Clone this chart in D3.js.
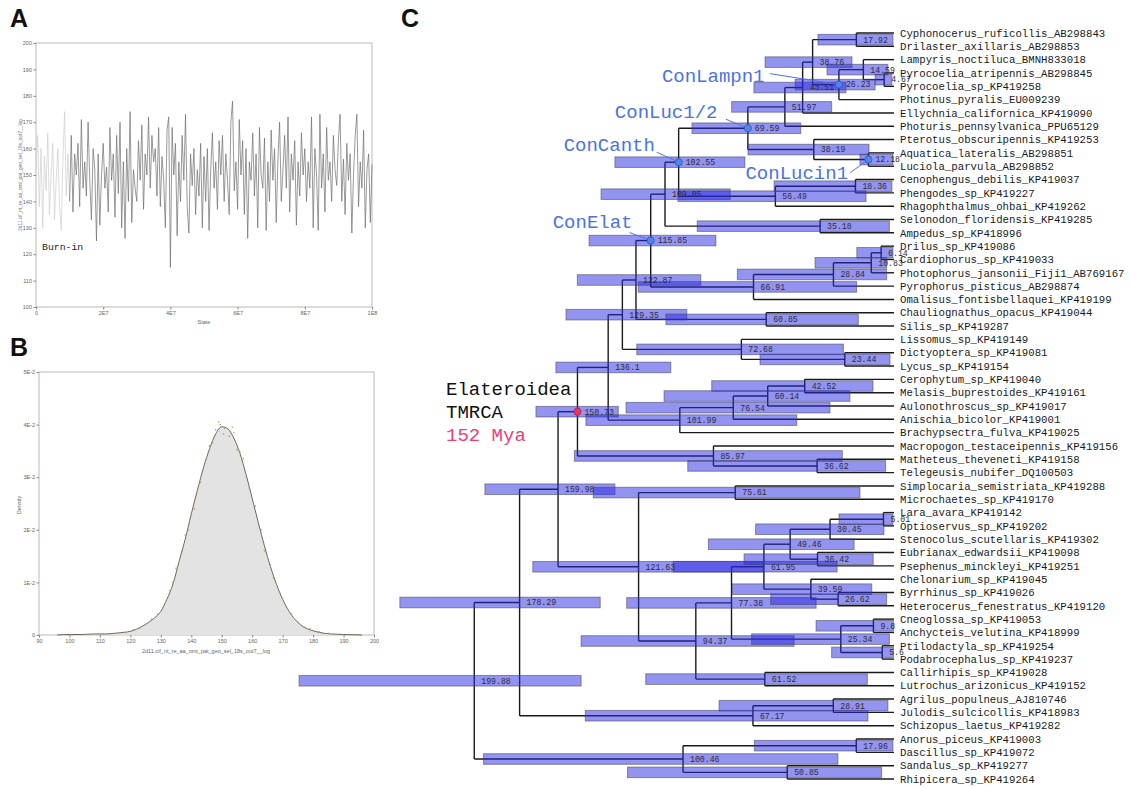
<!DOCTYPE html>
<html lang="en">
<head>
<meta charset="UTF-8">
<title>Dated tree, MCMC trace and root age density</title>
<script src="https://cdnjs.cloudflare.com/ajax/libs/d3/7.8.5/d3.min.js"></script>
<style>
  body { margin: 0; background: #fff; }
  svg { display: block; }
  .mono { font-family: "Liberation Mono", "Courier New", monospace; }
  .axis text { font-family: "Liberation Sans", Arial, sans-serif; fill: #666; }
  .axis line { stroke: #888; }
</style>
</head>
<body>
<svg id="fig" width="1131" height="787"></svg>
<script>
// ---------- panel A: trace of the log ----------
const traceStep = 5e5;      // states between samples
const burnInEnd = 20;       // sample index where burn-in stops (1E7)
const traceValues = [
  152, 165, 138, 160, 130, 157, 144, 166, 135, 150, 162, 133, 148, 160, 138, 129, 155, 174, 142, 158,
  140, 165, 136, 158, 150, 162, 138, 171, 145, 155, 142, 170, 148, 133, 160, 152, 125, 158, 131, 150,
  162, 145, 153, 136, 168, 148, 158, 134, 165, 143, 170, 130, 155, 126, 160, 140, 174, 132, 152, 145,
  140, 163, 148, 169, 137, 158, 150, 172, 145, 165, 155, 160, 142, 168, 138, 157, 148, 130, 167, 172,
  115, 168, 150, 162, 127, 155, 140, 165, 148, 173, 138, 128, 158, 146, 160, 135, 152, 142, 162, 130,
  157, 140, 160, 129, 152, 166, 145, 155, 137, 163, 150, 165, 140, 158, 148, 135, 170, 178, 144, 155,
  137, 171, 150, 163, 135, 160, 126, 155, 148, 166, 142, 158, 130, 168, 150, 145, 164, 129, 155, 140,
  167, 148, 160, 132, 156, 170, 140, 152, 165, 145, 172, 136, 158, 148, 163, 131, 155, 142, 166, 150,
  160, 140, 155, 145, 172, 130, 160, 150, 129, 173, 145, 158, 136, 168, 148, 155, 140, 165, 152, 146,
  163, 173, 140, 156, 135, 162, 148, 158, 128, 150, 165, 173, 138, 155, 145, 167, 130, 152, 158, 132, 154
];
const traceXTicks = [0, 2e7, 4e7, 6e7, 8e7, 1e8];
const traceXLabels = ["0", "2E7", "4E7", "6E7", "8E7", "1E8"];
const traceYTicks = [100, 110, 120, 130, 140, 150, 160, 170, 180, 190, 200];
const logName = "2d11.cif_nt_re_aa_omt_pat_geo_sel_18s_out7__log";

// ---------- panel B: marginal density ----------
const densityX = [96, 100, 104, 108, 112, 116, 118, 120, 122, 124, 126, 128, 130, 132, 134, 136, 138, 140,
  142, 144, 146, 148, 150, 152, 154, 156, 158, 160, 162, 164, 166, 168, 170, 172, 174, 176, 178, 180,
  182, 184, 186, 190, 196];
const densityY = [0, 0.0001, 0.0001, 0.0002, 0.0002, 0.0004, 0.0005, 0.0007, 0.0011, 0.0017, 0.0024, 0.0033,
  0.0045, 0.0068, 0.0097, 0.0140, 0.0182, 0.0230, 0.0275, 0.0318, 0.0354, 0.0382, 0.0396, 0.0392, 0.0374,
  0.0345, 0.0305, 0.0260, 0.0214, 0.0170, 0.0130, 0.0096, 0.0068, 0.0046, 0.0030, 0.0019, 0.0012, 0.0008,
  0.0005, 0.0003, 0.0002, 0.0001, 0];
const densityPtX = [118, 121, 123, 125, 127, 129, 131, 133, 134, 135, 137, 138, 139, 140, 141, 142, 143, 145,
  146, 147, 148, 149, 149.5, 150.5, 151, 152.5, 153.5, 154, 155, 156, 157, 159, 161, 163, 164, 165, 166,
  167, 169, 171, 173, 175, 177, 179, 182, 185];
const densityPtY = [0.0005, 0.0010, 0.0013, 0.0020, 0.0030, 0.0040, 0.0055, 0.0085, 0.0100, 0.0127, 0.0160,
  0.0190, 0.0200, 0.0232, 0.0240, 0.0275, 0.0290, 0.0335, 0.0360, 0.0365, 0.0390, 0.0405, 0.0400, 0.0382,
  0.0393, 0.0378, 0.0395, 0.0385, 0.0352, 0.0348, 0.0335, 0.0280, 0.0245, 0.0200, 0.0160, 0.0148, 0.0133,
  0.0108, 0.0080, 0.0055, 0.0040, 0.0025, 0.0015, 0.0012, 0.0006, 0.0003];
const densXTicks = [90, 100, 110, 120, 130, 140, 150, 160, 170, 180, 190, 200];
const densYTicks = [0, 0.01, 0.02, 0.03, 0.04, 0.05];
const densYLabels = ["0", "1E-2", "2E-2", "3E-2", "4E-2", "5E-2"];

// ---------- panel C: dated tree ----------
const tipNames = [
  "Cyphonocerus_ruficollis_AB298843", "Drilaster_axillaris_AB298853", "Lampyris_noctiluca_BMNH833018",
  "Pyrocoelia_atripennis_AB298845", "Pyrocoelia_sp_KP419258", "Photinus_pyralis_EU009239",
  "Ellychnia_californica_KP419090", "Photuris_pennsylvanica_PPU65129", "Pterotus_obscuripennis_KP419253",
  "Aquatica_lateralis_AB298851", "Luciola_parvula_AB298852", "Cenophengus_debilis_KP419037",
  "Phengodes_sp_KP419227", "Rhagophthalmus_ohbai_KP419262", "Selonodon_floridensis_KP419285",
  "Ampedus_sp_KP418996", "Drilus_sp_KP419086", "Cardiophorus_sp_KP419033",
  "Photophorus_jansonii_Fiji1_AB769167", "Pyrophorus_pisticus_AB298874", "Omalisus_fontisbellaquei_KP419199",
  "Chauliognathus_opacus_KP419044", "Silis_sp_KP419287", "Lissomus_sp_KP419149",
  "Dictyoptera_sp_KP419081", "Lycus_sp_KP419154", "Cerophytum_sp_KP419040",
  "Melasis_buprestoides_KP419161", "Aulonothroscus_sp_KP419017", "Anischia_bicolor_KP419001",
  "Brachypsectra_fulva_KP419025", "Macropogon_testaceipennis_KP419156", "Matheteus_theveneti_KP419158",
  "Telegeusis_nubifer_DQ100503", "Simplocaria_semistriata_KP419288", "Microchaetes_sp_KP419170",
  "Lara_avara_KP419142", "Optioservus_sp_KP419202", "Stenocolus_scutellaris_KP419302",
  "Eubrianax_edwardsii_KP419098", "Psephenus_minckleyi_KP419251", "Chelonarium_sp_KP419045",
  "Byrrhinus_sp_KP419026", "Heterocerus_fenestratus_KP419120", "Cneoglossa_sp_KP419053",
  "Anchycteis_velutina_KP418999", "Ptilodactyla_sp_KP419254", "Podabrocephalus_sp_KP419237",
  "Callirhipis_sp_KP419028", "Lutrochus_arizonicus_KP419152", "Agrilus_populneus_AJ810746",
  "Julodis_sulcicollis_KP418983", "Schizopus_laetus_KP419282", "Anorus_piceus_KP419003",
  "Dascillus_sp_KP419072", "Sandalus_sp_KP419277", "Rhipicera_sp_KP419264"
];
// internal nodes: id, mean age (Ma), 95% HPD, children (t = tip index, a = node)
const nodeIds = ["a1","a2","a3","a4","a5","a6","a7","a8","a9","a10","a11","a12","a13","a14","a15","a16",
  "a17","a18","a19","a20","a21","a22","a23","a24","a25","a26","a27","a28","a29","a30","a31","a32","a33",
  "a34","a35","a36","a37","a38","a39","a40","a41","a42","a43","a44","a45","a46","a47","a48","a49","a50",
  "a51","a52","a53","a54","a55","a56"];
const nodeAges = [17.92, 4.67, 14.59, 26.23, 38.76, 43.51, 51.97, 12.18, 38.19, 69.59, 18.36, 56.49, 102.55,
  35.18, 109.05, 6.14, 10.83, 28.84, 66.91, 115.85, 60.85, 122.87, 23.44, 72.68, 129.35, 42.52, 60.14,
  76.54, 101.99, 136.1, 36.62, 85.97, 150.73, 75.61, 5.01, 30.45, 36.42, 49.46, 26.62, 39.59, 61.95, 9.8,
  5.6, 25.34, 77.38, 61.52, 94.37, 121.63, 159.98, 28.91, 67.17, 178.29, 17.96, 50.85, 100.46, 199.88];
const nodeHpd = [[0.5,36.2],[1.0,9.0],[2.9,31.9],[9.0,47.1],[20.0,61.4],[22.9,66.7],[29.7,77.3],[0.5,16.2],
  [11.9,69.5],[44.4,96.2],[1.0,57.1],[13.3,102.9],[71.0,132.9],[2.2,93.7],[78.0,139.5],[0.5,17.7],
  [3.5,37.6],[3.5,74.6],[17.8,121.8],[84.8,145.2],[17.0,108.6],[92.0,150.8],[1.9,63.8],[24.1,122.5],
  [98.7,156.2],[10.0,86.8],[21.0,109.5],[30.5,127.6],[46.3,146.7],[106.3,161.0],[4.0,98.2],[24.6,152.2],
  [131.3,170.5],[16.2,143.2],[0.5,26.2],[4.8,65.9],[9.9,71.4],[19.0,88.4],[3.5,58.7],[10.6,77.0],
  [27.1,105.2],[0.3,37.1],[0.3,29.7],[2.2,67.8],[37.1,127.3],[12.7,118.2],[47.6,149.0],[62.4,172.0],
  [132.9,194.8],[2.9,83.3],[12.4,147.0],[139.9,235.3],[0.5,66.5],[5.9,126.9],[26.7,195.5],[149.0,283.3]];
const nodeKids = [["t0","t1"],["t3","t4"],["t2","a2"],["a3","t5"],["a1","a4"],["a5","t6"],["a6","t7"],
  ["t9","t10"],["t8","a8"],["a7","a9"],["t11","t12"],["a11","t13"],["a10","a12"],["t14","t15"],
  ["a13","a14"],["t16","t17"],["a16","t18"],["a17","t19"],["a18","t20"],["a15","a19"],["t21","t22"],
  ["a20","a21"],["t24","t25"],["t23","a23"],["a22","a24"],["t26","t27"],["a26","t28"],["a27","t29"],
  ["a28","t30"],["a25","a29"],["t32","t33"],["t31","a31"],["a30","a32"],["t34","t35"],["t36","t37"],
  ["a35","t38"],["t39","t40"],["a36","a37"],["t42","t43"],["t41","a39"],["a38","a40"],["t44","t45"],
  ["t46","t47"],["a42","a43"],["a41","a44"],["t48","t49"],["a45","a46"],["a34","a47"],["a33","a48"],
  ["t50","t51"],["a50","t52"],["a49","a51"],["t53","t54"],["t55","t56"],["a53","a54"],["a52","a55"]];
// calibrated / highlighted nodes
const calibNodes = ["a4", "a10", "a13", "a8", "a20"];
const calibNames = ["ConLampn1", "ConLuc1/2", "ConCanth", "ConLucin1", "ConElat"];
const tmrcaNode = "a33";
const tmrcaLines = ["Elateroidea", "TMRCA", "152 Mya"];

const svg = d3.select("#fig");

// panel letters
svg.selectAll("text.panel").data([["A", 10, 27], ["B", 10, 356], ["C", 401, 27]]).join("text")
  .attr("class", "panel").attr("x", d => d[1]).attr("y", d => d[2]).text(d => d[0])
  .attr("font-family", "Liberation Sans, Arial, sans-serif").attr("font-weight", "bold")
  .attr("font-size", 25).attr("fill", "#111");

// ================= A =================
{
  const x = d3.scaleLinear().domain([0, 1e8]).range([36, 372]);
  const y = d3.scaleLinear().domain([100, 200]).range([307, 43]);
  const g = svg.append("g");
  g.append("rect").attr("x", 36).attr("y", 43).attr("width", 336).attr("height", 264)
    .attr("fill", "#fff").attr("stroke", "#a8a8a8").attr("stroke-width", 0.8);
  const line = d3.line().x((d, i) => x(d.i * traceStep)).y(d => y(d.v));
  const pts = traceValues.map((v, i) => ({ i, v }));
  g.append("path").datum(pts.slice(0, burnInEnd + 1)).attr("d", line)
    .attr("fill", "none").attr("stroke", "#cfcfcf").attr("stroke-width", 0.7);
  g.append("path").datum(pts.slice(burnInEnd)).attr("d", line)
    .attr("fill", "none").attr("stroke", "#6f6f6f").attr("stroke-width", 0.7);
  g.append("g").attr("class", "axis").attr("transform", "translate(0,307)")
    .call(d3.axisBottom(x).tickValues(traceXTicks).tickFormat((d, i) => traceXLabels[i]).tickSize(2.5).tickPadding(2))
    .call(a => a.select(".domain").remove()).selectAll("text").attr("font-size", 5.5);
  g.append("g").attr("class", "axis").attr("transform", "translate(36,0)")
    .call(d3.axisLeft(y).tickValues(traceYTicks).tickSize(2.5).tickPadding(1.5))
    .call(a => a.select(".domain").remove()).selectAll("text").attr("font-size", 5.5);
  g.append("text").attr("x", 204).attr("y", 324).attr("text-anchor", "middle")
    .attr("font-family", "Liberation Sans, Arial, sans-serif").attr("font-size", 5.5).attr("fill", "#666").text("State");
  g.append("text").attr("transform", "translate(22,175) rotate(-90)").attr("text-anchor", "middle")
    .attr("font-family", "Liberation Sans, Arial, sans-serif").attr("font-size", 4.8).attr("fill", "#777").text(logName);
  g.append("text").attr("class", "mono").attr("x", 42).attr("y", 250)
    .attr("font-size", 9.8).attr("fill", "#222").text("Burn-in");
}

// ================= B =================
{
  const x = d3.scaleLinear().domain([90, 200]).range([39, 374]);
  const y = d3.scaleLinear().domain([0, 0.05]).range([635, 372]);
  const g = svg.append("g");
  g.append("rect").attr("x", 39).attr("y", 372).attr("width", 335).attr("height", 263)
    .attr("fill", "#fff").attr("stroke", "#a8a8a8").attr("stroke-width", 0.8);
  const curve = densityX.map((v, i) => [v, densityY[i]]);
  g.append("path").datum(curve)
    .attr("d", d3.area().x(d => x(d[0])).y0(y(0)).y1(d => y(d[1])).curve(d3.curveMonotoneX))
    .attr("fill", "#e3e3e3");
  g.append("path").datum(curve)
    .attr("d", d3.line().x(d => x(d[0])).y(d => y(d[1])).curve(d3.curveMonotoneX))
    .attr("fill", "none").attr("stroke", "#5f5a48").attr("stroke-width", 0.9);
  g.selectAll("circle.pt").data(densityPtX.map((v, i) => [v, densityPtY[i]])).join("circle")
    .attr("class", "pt").attr("cx", d => x(d[0])).attr("cy", d => y(d[1])).attr("r", 0.8)
    .attr("fill", "#b39a6a");
  g.append("g").attr("class", "axis").attr("transform", "translate(0,635)")
    .call(d3.axisBottom(x).tickValues(densXTicks).tickSize(2.5).tickPadding(2))
    .call(a => a.select(".domain").remove()).selectAll("text").attr("font-size", 5.5);
  g.append("g").attr("class", "axis").attr("transform", "translate(39,0)")
    .call(d3.axisLeft(y).tickValues(densYTicks).tickFormat((d, i) => densYLabels[i]).tickSize(2.5).tickPadding(1.5))
    .call(a => a.select(".domain").remove()).selectAll("text").attr("font-size", 5.5);
  g.append("text").attr("x", 206).attr("y", 653).attr("text-anchor", "middle")
    .attr("font-family", "Liberation Sans, Arial, sans-serif").attr("font-size", 5.5).attr("fill", "#666").text(logName);
  g.append("text").attr("transform", "translate(21,505) rotate(-90)").attr("text-anchor", "middle")
    .attr("font-family", "Liberation Sans, Arial, sans-serif").attr("font-size", 5.5).attr("fill", "#666").text("Density");
}

// ================= C =================
{
  const byId = {};
  tipNames.forEach((n, i) => { byId["t" + i] = { name: n, age: 0, tip: i }; });
  nodeIds.forEach((id, i) => { byId[id] = { id, age: nodeAges[i], hpd: nodeHpd[i], kids: nodeKids[i] }; });
  const root = d3.hierarchy(byId["a56"], d => d.kids ? d.kids.map(k => byId[k]) : null);

  const yTip = d3.scaleLinear().domain([0, tipNames.length - 1]).range([33, 779]);
  const xAge = d3.scaleLinear().domain([0, 200]).range([894, 474]);
  root.eachAfter(n => {
    n.py = n.children ? (n.children[0].py + n.children[1].py) / 2 : yTip(n.data.tip);
    n.px = xAge(n.data.age);
  });
  const inner = root.descendants().filter(n => n.children);
  const pos = {};
  inner.forEach(n => { pos[n.data.id] = n; });

  const g = svg.append("g");
  // branches
  const br = g.append("g").attr("stroke", "#1a1a1a").attr("stroke-width", 1.4).attr("fill", "none");
  inner.forEach(n => {
    const ys = n.children.map(c => c.py);
    br.append("line").attr("x1", n.px).attr("x2", n.px).attr("y1", d3.min(ys)).attr("y2", d3.max(ys));
    n.children.forEach(c => {
      br.append("line").attr("x1", n.px).attr("x2", c.px).attr("y1", c.py).attr("y2", c.py);
    });
  });
  // 95% HPD bars
  g.append("g").selectAll("rect").data(inner).join("rect")
    .attr("x", d => xAge(d.data.hpd[1])).attr("width", d => xAge(d.data.hpd[0]) - xAge(d.data.hpd[1]))
    .attr("y", d => d.py - 5.3).attr("height", 10.6)
    .attr("fill", "rgba(40,40,225,0.5)").attr("stroke", "rgba(70,70,90,0.55)").attr("stroke-width", 1);
  // node ages
  g.append("g").selectAll("text").data(inner).join("text").attr("class", "mono")
    .attr("x", d => d.px + 7).attr("y", d => d.py).attr("dy", "0.35em")
    .attr("font-size", 8.2).attr("fill", "#2b2b40").text(d => String(d.data.age));
  // tip labels
  g.append("g").selectAll("text").data(root.leaves()).join("text").attr("class", "mono")
    .attr("x", 900).attr("y", d => d.py).attr("dy", "0.35em")
    .attr("font-size", 10.7).attr("fill", "#1a1a1a").text(d => d.data.name);

  // calibration labels (text start and leader start relative to node)
  const calibOffsets = [[-177, -3, -69, -11], [-133, -10, -22, -9], [-115, -11, -22, -10],
                        [-123, 19, -18, 13], [-98, -13, -21, -8]];
  const blue = "#4a74e6";
  calibNodes.forEach((id, i) => {
    const n = pos[id], o = calibOffsets[i];
    g.append("line").attr("x1", n.px + o[2]).attr("y1", n.py + o[3]).attr("x2", n.px).attr("y2", n.py)
      .attr("stroke", blue).attr("stroke-width", 1);
    g.append("circle").attr("cx", n.px).attr("cy", n.py).attr("r", 3.6)
      .attr("fill", "#4f86ea").attr("stroke", "#2d55b0").attr("stroke-width", 0.8);
    g.append("text").attr("class", "mono").attr("x", n.px + o[0]).attr("y", n.py + o[1])
      .attr("font-size", 19).attr("fill", blue).text(calibNames[i]);
  });
  const t = pos[tmrcaNode];
  g.append("circle").attr("cx", t.px).attr("cy", t.py).attr("r", 3.6)
    .attr("fill", "#e8336b").attr("stroke", "#b3204f").attr("stroke-width", 0.8);
  tmrcaLines.forEach((s, i) => {
    g.append("text").attr("class", "mono").attr("x", 446).attr("y", 395 + i * 23)
      .attr("font-size", 19).attr("fill", i === 2 ? "#e8407a" : "#111").text(s);
  });
}
</script>
</body>
</html>
